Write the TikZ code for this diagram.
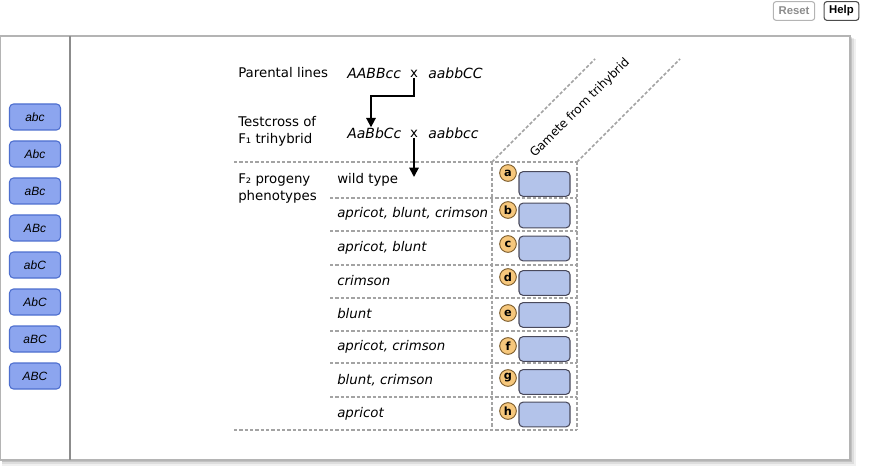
\documentclass[tikz,border=0pt]{standalone}
\usepackage{fontspec}
\setmainfont{DejaVu Sans}
\newfontfamily\arialfont{Liberation Sans}
\usetikzlibrary{positioning,calc,arrows.meta}

\definecolor{btnfill}{HTML}{8CA5EF}
\definecolor{btnline}{HTML}{4E6FCF}
\definecolor{ansfill}{HTML}{B3C3EA}
\definecolor{ansline}{HTML}{4A4A5C}
\definecolor{badgefill}{HTML}{F6C77C}
\definecolor{badgeline}{HTML}{7A5A2A}
\definecolor{dashgray}{HTML}{A3A3A3}
\definecolor{framegray}{HTML}{B4B4B4}

\begin{document}
\begin{tikzpicture}[x=0.75pt,y=-0.75pt,
  lbl/.style={anchor=west,inner sep=0pt,font=\fontsize{10}{12.75}\selectfont,align=left},
  geno/.style={inner sep=0pt,font=\fontsize{10.5}{12}\selectfont\itshape},
  phen/.style={anchor=west,inner sep=0pt,font=\fontsize{10}{12}\selectfont\itshape},
  genebtn/.style={draw=btnline,fill=btnfill,rounded corners=3pt,line width=0.8pt,
    minimum width=38.25pt,minimum height=19.5pt,inner sep=0pt,
    font=\arialfont\fontsize{9}{10}\selectfont\itshape},
  ansbox/.style={draw=ansline,fill=ansfill,rounded corners=3pt,line width=0.8pt,
    minimum width=38.25pt,minimum height=18.5pt,inner sep=0pt},
  badge/.style={circle,draw=badgeline,fill=badgefill,line width=0.7pt,
    minimum size=12.5pt,inner sep=0pt,font=\fontsize{8.5}{9}\selectfont\bfseries},
  topbtn/.style={draw=framegray,rounded corners=2pt,line width=0.8pt,
    minimum height=14pt,inner sep=2pt,font=\arialfont\fontsize{8.5}{10}\selectfont\bfseries},
  grid/.style={dashgray,line width=1.1pt,dash pattern=on 2.5pt off 1.5pt},
  arr/.style={-{Triangle[length=7pt,width=7pt]},line width=1.4pt}]
\useasboundingbox (0,0) rectangle (870,470);

% frame with shadow
\fill[black,opacity=.06] (2,39) rectangle (856,466);
\fill[black,opacity=.08] (2,38) rectangle (854,464);
\fill[black,opacity=.12] (2,37) rectangle (852,462);
\draw[framegray,fill=white,line width=0.8pt] (0.5,36) rectangle (850,460);
\draw[black!45,line width=1.5pt] (70,36) -- (70,460);

% top buttons
\node[topbtn,text=black!45,minimum width=31pt] (reset) at (794,11) {Reset};
\node[topbtn,text=black,draw=black!70,minimum width=26pt] (help) at (841.5,11) {Help};

% gamete buttons
\node[genebtn] (g1) at (35,117) {abc};
\node[genebtn] (g2) at (35,154) {Abc};
\node[genebtn] (g3) at (35,191) {aBc};
\node[genebtn] (g4) at (35,228) {ABc};
\node[genebtn] (g5) at (35,265) {abC};
\node[genebtn] (g6) at (35,302) {AbC};
\node[genebtn] (g7) at (35,339) {aBC};
\node[genebtn] (g8) at (35,376) {ABC};

% crosses
\node[lbl] (parlab) at (238,73) {Parental lines};
\node[geno,anchor=west] (par1) at (347,73) {AABBcc};
\node[geno,font=\fontsize{10}{11}\selectfont] (cross1) at (414,74) {x};
\node[geno,anchor=west] (par2) at (428,73) {aabbCC};
\node[lbl] (testlab) at (238,131.5) {Testcross of\\F₁ trihybrid};
\node[geno,anchor=west] (f1a) at (347,133) {AaBbCc};
\node[geno,font=\fontsize{10}{11}\selectfont] (cross2) at (414,134) {x};
\node[geno,anchor=west] (f1b) at (428,133) {aabbcc};
\node[lbl] (f2lab) at (238,188.5) {F₂ progeny\\phenotypes};

\coordinate (bend) at (371,96);
\coordinate (f2tip) at (413,177);
\draw[arr] (cross1.south) |- (bend) -- (bend |- f1a.north);
\draw[arr] (cross2.south) -- (cross2.south |- f2tip);

% table
\draw[grid] (234,162) -- (577,162);
\draw[grid] (234,430) -- (577,430);
\draw[grid] (330,198) -- (577,198);
\draw[grid] (330,231) -- (577,231);
\draw[grid] (330,265) -- (577,265);
\draw[grid] (330,298) -- (577,298);
\draw[grid] (330,331) -- (577,331);
\draw[grid] (330,363) -- (577,363);
\draw[grid] (330,397) -- (577,397);
\draw[grid] (492,162) -- (492,430);
\draw[grid] (577,162) -- (577,430);
\draw[grid] (492,162) -- ++(103,-103);
\draw[grid] (577,162) -- ++(103,-103);
\node[rotate=45,inner sep=0pt,font=\fontsize{9}{10}\selectfont] (gamlab) at (580,108) {Gamete from trihybrid};

% phenotypes
\node[phen,font=\fontsize{10}{12}\selectfont] (p1) at (337,180) {wild type};
\node[phen] (p2) at (337,213.5) {apricot, blunt, crimson};
\node[phen] (p3) at (337,247.5) {apricot, blunt};
\node[phen] (p4) at (337,281) {crimson};
\node[phen] (p5) at (337,314) {blunt};
\node[phen] (p6) at (337,347) {apricot, crimson};
\node[phen] (p7) at (337,380) {blunt, crimson};
\node[phen] (p8) at (337,414) {apricot};

% answer slots
\node[ansbox] (s1) at (544.5,184) {};
\node[ansbox] (s2) at (544.5,215.5) {};
\node[ansbox] (s3) at (544.5,248.5) {};
\node[ansbox] (s4) at (544.5,283) {};
\node[ansbox] (s5) at (544.5,315) {};
\node[ansbox] (s6) at (544.5,349) {};
\node[ansbox] (s7) at (544.5,382) {};
\node[ansbox] (s8) at (544.5,414.5) {};
\node[badge] (ba) at (508,173) {a};
\node[badge] (bb) at (508,210) {b};
\node[badge] (bc) at (508,244) {c};
\node[badge] (bd) at (508,277) {d};
\node[badge] (be) at (508,313) {e};
\node[badge] (bf) at (508,346) {f};
\node[badge] (bg) at (508,378) {g};
\node[badge] (bh) at (508,411) {h};
\end{tikzpicture}
\end{document}
